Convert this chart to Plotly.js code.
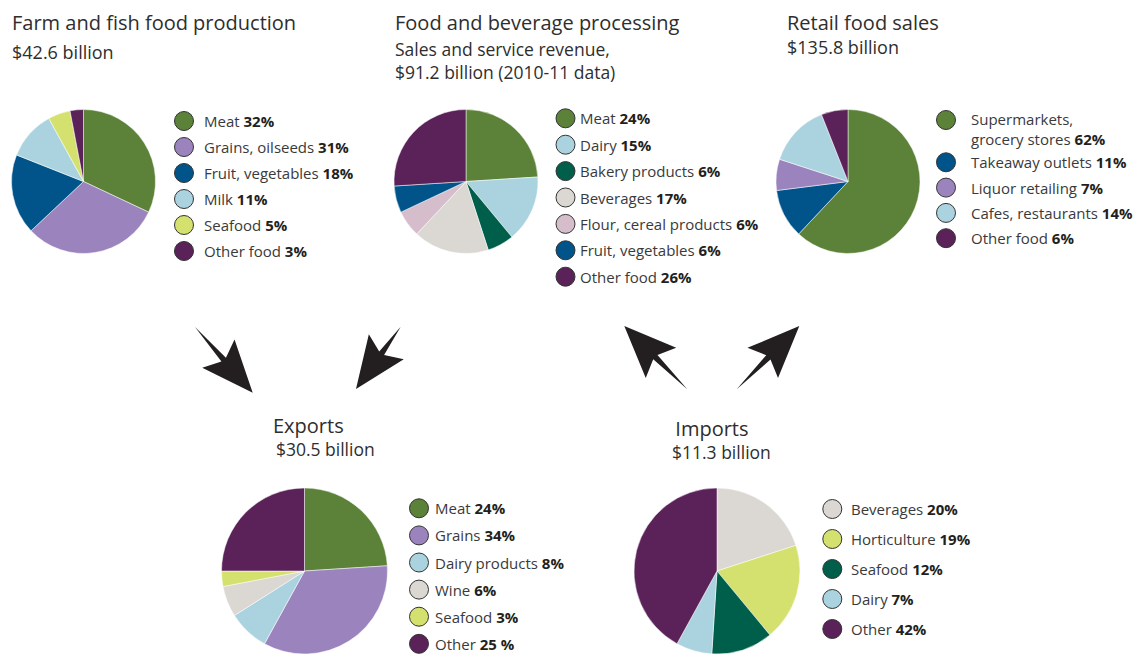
<!DOCTYPE html>
<html>
<head>
<meta charset="utf-8">
<script src="https://cdn.plot.ly/plotly-3.0.1.min.js"></script>
<style>html,body{margin:0;padding:0;background:#fff;}#chart{width:1133px;height:654px;}</style>
</head>
<body>
<div id="chart"></div>
<script>
// ---------- DATA ----------
const farmLabels = ['Meat', 'Grains, oilseeds', 'Fruit, vegetables', 'Milk', 'Seafood', 'Other food'];
const farmValues = [32, 31, 18, 11, 5, 3];

const procLabels = ['Meat', 'Dairy', 'Bakery products', 'Beverages', 'Flour, cereal products', 'Fruit, vegetables', 'Other food'];
const procValues = [24, 15, 6, 17, 6, 6, 26];

const retailLabels = ['Supermarkets,<br>grocery stores', 'Takeaway outlets', 'Liquor retailing', 'Cafes, restaurants', 'Other food'];
const retailValues = [62, 11, 7, 14, 6];

const exportLabels = ['Meat', 'Grains', 'Dairy products', 'Wine', 'Seafood', 'Other'];
const exportValues = [24, 34, 8, 6, 3, 25];
const exportPctText = ['24%', '34%', '8%', '6%', '3%', '25 %'];

const importLabels = ['Beverages', 'Horticulture', 'Seafood', 'Dairy', 'Other'];
const importValues = [20, 19, 12, 7, 42];

// ---------- STYLE ----------
const C = {
  green: '#5b8238', purple: '#9b83bd', darkblue: '#00548a', lightblue: '#abd3df',
  yellow: '#d5e16f', plum: '#5a2259', darkgreen: '#005f4a', grey: '#dbd8d3', pink: '#d5bdcb'
};
const farmColors = [C.green, C.purple, C.darkblue, C.lightblue, C.yellow, C.plum];
const procColors = [C.green, C.lightblue, C.darkgreen, C.grey, C.pink, C.darkblue, C.plum];
const retailColors = [C.green, C.darkblue, C.purple, C.lightblue, C.plum];
const exportColors = [C.green, C.purple, C.lightblue, C.grey, C.yellow, C.plum];
const importColors = [C.grey, C.yellow, C.darkgreen, C.lightblue, C.plum];

const W = 1133, H = 654;
const FONT = 'Open Sans, Noto Sans, sans-serif';
const TXT = '#3a3a3a', BOLD = '#231f20';

const charts = [
  {labels: farmLabels, values: farmValues, colors: farmColors, cx: 83.5, cy: 181.5, r: 72,
   leg: {x: 184, tx: 202, y0: 121, dy: 26, first: 26}},
  {labels: procLabels, values: procValues, colors: procColors, cx: 466, cy: 181.5, r: 72,
   leg: {x: 565.5, tx: 578, y0: 118.3, dy: 26.4, first: 26.4}},
  {labels: retailLabels, values: retailValues, colors: retailColors, cx: 848, cy: 181.5, r: 72,
   leg: {x: 946, tx: 969, y0: 120, dy: 25.3, first: 42.3}},
  {labels: exportLabels, values: exportValues, colors: exportColors, cx: 304.5, cy: 571, r: 83, pct: exportPctText,
   leg: {x: 419, tx: 433, y0: 508.3, dy: 27.1, first: 27.1}},
  {labels: importLabels, values: importValues, colors: importColors, cx: 717, cy: 571, r: 83,
   leg: {x: 832.3, tx: 849, y0: 509, dy: 30, first: 30}}
];

// title blocks: first line (big) and optional subtitle lines
const titles = [
  {t: 'Farm and fish food production', x: 10, y: 22, s: 20},
  {t: '$42.6 billion', x: 10, y: 52, s: 18},
  {t: 'Food and beverage processing', x: 393, y: 22, s: 20},
  {t: 'Sales and service revenue,<br>$91.2 billion (2010-11 data)', x: 393, y: 60, s: 17.5},
  {t: 'Retail food sales', x: 785, y: 22, s: 20},
  {t: '$135.8 billion', x: 785, y: 47, s: 18},
  {t: '<span style="font-size:20px">Exports</span><br>&#8201;$30.5 billion', x: 271, y: 436, s: 17.5},
  {t: '<span style="font-size:20px">&#8201;Imports</span><br>$11.3 billion', x: 670, y: 439.5, s: 17.5}
];

// arrows: tail -> tip (pixel positions on the canvas)
const arrows = [
  {tail: [195, 327], tip: [252.7, 392.7]},
  {tail: [400.7, 326.7], tip: [356, 389]},
  {tail: [687.3, 389.3], tip: [624.3, 326]},
  {tail: [736.7, 389.3], tip: [799.3, 326]}
];

function arrowPath(a) {
  const [tx, ty] = a.tail, [px, py] = a.tip;
  const L = Math.hypot(px - tx, py - ty);
  const ux = (px - tx) / L, uy = (py - ty) / L;
  const nx = -uy, ny = ux;
  const headLen = 52, halfW = 21.5, notch = 44, shaftW = 3;
  const pt = (d, w) => [px - ux * d + nx * w, py - uy * d + ny * w];
  const pts = [[tx, ty], pt(notch, shaftW), pt(headLen, halfW), [px, py], pt(headLen, -halfW), pt(notch, -shaftW)];
  return 'M' + pts.map(p => p[0].toFixed(2) + ',' + p[1].toFixed(2)).join(' L') + ' Z';
}

const traces = [];
const annotations = [];

charts.forEach(ch => {
  traces.push({
    type: 'pie', labels: ch.labels, values: ch.values, sort: false, direction: 'clockwise', rotation: 0,
    marker: {colors: ch.colors, line: {color: '#ffffff', width: 0.5}},
    textinfo: 'none', hoverinfo: 'label+percent', showlegend: false,
    domain: {x: [(ch.cx - ch.r) / W, (ch.cx + ch.r) / W], y: [Math.max(0, 1 - (ch.cy + ch.r) / H), 1 - (ch.cy - ch.r) / H]}
  });
  const ys = ch.values.map((v, i) => ch.leg.y0 + (i === 0 ? 0 : ch.leg.first + (i - 1) * ch.leg.dy));
  traces.push({
    type: 'scatter', mode: 'markers', x: ys.map(() => ch.leg.x), y: ys, hoverinfo: 'skip', showlegend: false,
    marker: {size: 19, color: ch.colors, line: {color: '#333333', width: 1}}
  });
  ch.labels.forEach((lab, i) => {
    const pct = ch.pct ? ch.pct[i] : ch.values[i] + '%';
    const multi = lab.indexOf('<br>') >= 0;
    annotations.push({
      xref: 'x', yref: 'y', x: ch.leg.tx, y: ys[i] + (multi ? 9 : 0), xanchor: 'left', yanchor: 'middle',
      showarrow: false, align: 'left',
      text: lab + ' <b><span style="color:' + BOLD + '">' + pct + '</span></b>',
      font: {family: FONT, size: 15, color: TXT}
    });
  });
});

titles.forEach(t => annotations.push({
  xref: 'x', yref: 'y', x: t.x, y: t.y, xanchor: 'left', yanchor: 'middle', showarrow: false, align: 'left',
  text: t.t, font: {family: FONT, size: t.s, color: '#2e2e2e'}
}));

const shapes = arrows.map(a => ({
  type: 'path', xref: 'x', yref: 'y', path: arrowPath(a), fillcolor: '#231f20', line: {width: 0}
}));

const layout = {
  width: W, height: H, margin: {l: 0, r: 0, t: 0, b: 0},
  paper_bgcolor: '#ffffff', plot_bgcolor: 'rgba(0,0,0,0)', showlegend: false,
  xaxis: {range: [0, W], visible: false, fixedrange: true},
  yaxis: {range: [H, 0], visible: false, fixedrange: true},
  annotations: annotations, shapes: shapes
};

Plotly.newPlot('chart', traces, layout, {displayModeBar: false});
</script>
</body>
</html>
